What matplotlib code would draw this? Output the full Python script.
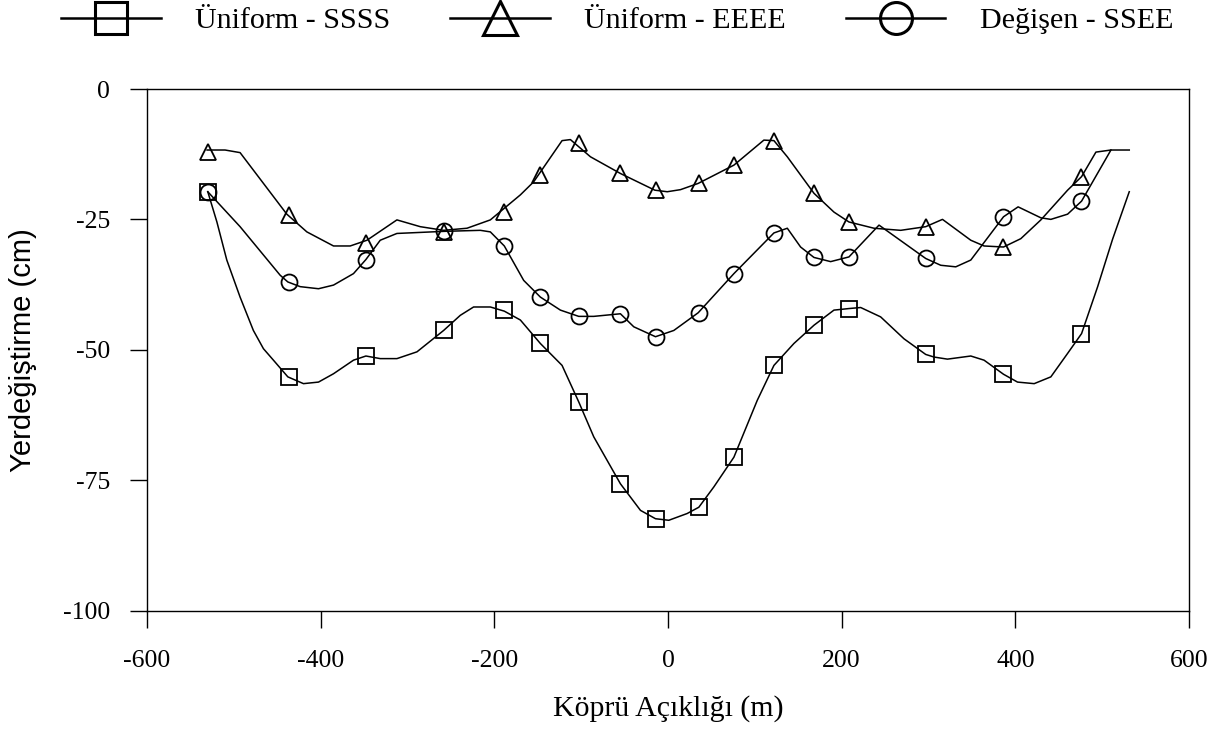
import matplotlib
matplotlib.use("Agg")
import matplotlib.pyplot as plt
from matplotlib.lines import Line2D

plt.rcParams['axes.unicode_minus'] = False
plt.rcParams['font.family'] = ['Liberation Serif', 'DejaVu Serif']

# ---- data ----
marker_x = [-530, -437, -348, -258, -189, -147, -103, -55, -14, 36, 76, 122, 168, 208, 297, 386, 476]
ssss_marker_y = [-19.7, -55.2, -51.2, -46.3, -42.4, -48.8, -60.0, -75.7, -82.4, -80.2, -70.6, -53.0, -45.3, -42.1, -50.9, -54.7, -46.9]
eeee_marker_y = [-12.0, -24.1, -29.5, -27.4, -23.6, -16.5, -10.4, -16.2, -19.4, -18.1, -14.6, -9.9, -20.0, -25.5, -26.4, -30.3, -16.8]
ssee_marker_y = [-19.7, -37.0, -32.7, -27.3, -30.1, -39.9, -43.6, -43.1, -47.5, -42.9, -35.4, -27.6, -32.3, -32.2, -32.5, -24.5, -21.5]

ssss_line_x = [-530.0, -519.5, -508.1, -492.8, -477.5, -465.9, -454.4, -437.8, -419.8, -402.5, -385.2, -362.2, -347.9, -331.4, -312.2,
               -289.1, -258.4, -239.2, -223.9, -204.6, -188.5, -170.0, -147.0, -122.0, -102.8, -85.5, -54.8,
               -31.7, -14.4, 0.9, 22.1, 35.5, 52.8, 75.9, 102.8, 122.0, 145.0, 168.1, 191.1, 208.4, 221.9,
               244.9, 271.8, 296.8, 306.4, 321.8, 348.7, 364.0, 386.4, 402.5, 421.7, 440.9, 460.2, 476.3,
               494.8, 512.0, 531.2]
ssss_line_y = [-19.7, -25.5, -32.8, -39.9, -46.3, -49.8, -52.0, -55.2, -56.5, -56.2, -54.6, -52.0, -51.2, -51.7, -51.7,
               -50.4, -46.3, -43.4, -41.8, -41.8, -42.6, -44.3, -48.8, -53.0, -60.0, -66.7, -75.7,
               -80.8, -82.4, -82.7, -81.4, -80.2, -76.3, -70.6, -59.7, -53.0, -48.8, -45.3, -42.4, -42.1, -41.9,
               -43.7, -47.9, -50.9, -51.4, -51.8, -51.2, -52.0, -54.7, -56.2, -56.5, -55.2, -50.7, -46.9,
               -37.9, -28.8, -19.7]

eeee_line_x = [-530.8, -510.1, -492.8, -439.0, -415.9, -385.2, -366.0, -346.7, -312.2, -285.3, -258.4, -231.5,
               -204.6, -170.0, -154.7, -122.0, -112.4, -89.3, -54.8, -15.2, -0.9, 14.4, 34.8, 75.9, 110.4,
               122.0, 137.4, 168.1, 191.1, 208.4, 237.2, 268.0, 296.8, 316.1, 348.7, 364.0, 386.4, 406.3,
               429.4, 460.2, 476.3, 492.8, 510.1, 531.2]
eeee_line_y = [-11.7, -11.7, -12.2, -24.0, -27.4, -30.1, -30.1, -29.0, -25.1, -26.4, -27.1, -26.7,
               -25.1, -20.3, -17.8, -9.9, -9.7, -13.0, -16.2, -19.4, -19.7, -19.3, -18.1, -14.6, -9.8,
               -9.9, -13.0, -20.0, -23.6, -25.5, -26.7, -27.1, -26.4, -25.0, -29.0, -30.1, -30.3, -28.7,
               -25.1, -19.4, -16.8, -12.1, -11.7, -11.7]

ssee_line_x = [-530.0, -492.8, -446.7, -437.8, -423.6, -402.5, -385.2, -362.2, -347.9, -331.4, -312.2, -258.4,
               -216.1, -204.6, -188.5, -166.2, -147.0, -123.9, -102.8, -85.5, -54.8, -39.4, -14.4, 6.7,
               34.8, 75.9, 122.0, 137.4, 152.7, 168.1, 187.3, 208.4, 243.0, 296.8, 314.1, 331.4, 348.7,
               386.4, 403.2, 429.4, 440.9, 460.2, 476.3, 510.1]
ssee_line_y = [-19.7, -26.4, -35.7, -37.0, -37.9, -38.3, -37.6, -35.4, -32.7, -29.0, -27.7, -27.3,
               -27.1, -27.4, -30.1, -36.7, -39.9, -42.4, -43.6, -43.6, -43.1, -45.6, -47.5, -46.3,
               -42.9, -35.4, -27.6, -26.7, -30.3, -32.3, -33.1, -32.2, -26.1, -32.5, -33.8, -34.1, -32.8,
               -24.5, -22.6, -24.7, -25.0, -24.0, -21.5, -11.7]

labels = ["Üniform - SSSS", "Üniform - EEEE", "Değişen - SSEE"]
x_ticks = [-600, -400, -200, 0, 200, 400, 600]
y_ticks = [0, -25, -50, -75, -100]

# ---- figure ----
W, H = 1231, 733
fig = plt.figure(figsize=(W / 100, H / 100), dpi=100)
ax = fig.add_axes([147 / W, 1 - 610.5 / H, (1189 - 147) / W, (610.5 - 89) / H])

lw = 1.1
ms = 11.5
mew = 1.3
series = [
    (ssss_line_x, ssss_line_y, ssss_marker_y, 's'),
    (eeee_line_x, eeee_line_y, eeee_marker_y, '^'),
    (ssee_line_x, ssee_line_y, ssee_marker_y, 'o'),
]
for lx, ly, my, mk in series:
    ax.plot(lx, ly, color='black', lw=lw, zorder=2)
    ax.plot(marker_x, my, linestyle='none', marker=mk, markersize=ms if mk != '^' else ms + 0.5,
            markerfacecolor='none', markeredgecolor='black', markeredgewidth=mew, zorder=3)

ax.set_xlim(-600, 600)
ax.set_ylim(-100, 0)
ax.set_xticks(x_ticks)
ax.set_yticks(y_ticks)
ax.tick_params(direction='out', length=12, width=1.0, labelsize=18.5, color='black')
ax.tick_params(axis='x', pad=16.3)
ax.tick_params(axis='y', pad=14.4)
for sp in ax.spines.values():
    sp.set_linewidth(1.0)

ax.set_xlabel("Köprü Açıklığı (m)", fontsize=21.5, labelpad=17)
fig.text(23 / W, 1 - 350 / H, "Yerdeğiştirme (cm)", rotation=90, ha='center', va='center',
         fontsize=21, family=['Liberation Sans', 'DejaVu Sans'])

handles = [Line2D([0], [0], color='black', lw=1.8, marker=m, markersize=23 if m != '^' else 25,
                  markerfacecolor='none', markeredgecolor='black', markeredgewidth=2.2)
           for m in ['s', '^', 'o']]
fig.legend(handles, labels, loc='center left', bbox_to_anchor=(61 / W, 1 - 21 / H), ncol=3,
           frameon=False, borderpad=0, borderaxespad=0, handlelength=3.33, handletextpad=1.15,
           columnspacing=1.98, fontsize=21.6)

fig.savefig("out.png", dpi=100)
